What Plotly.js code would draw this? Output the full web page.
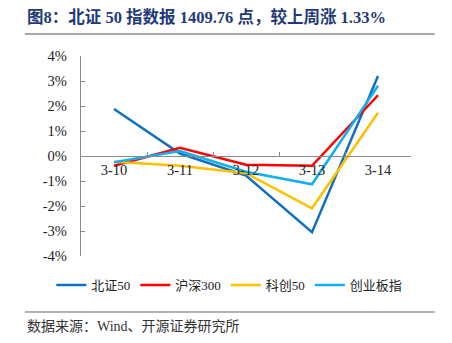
<!DOCTYPE html>
<html>
<head>
<meta charset="utf-8">
<script src="https://cdn.plot.ly/plotly-3.0.1.min.js"></script>
<style>
html,body{margin:0;padding:0;background:#fff;}
#chart{width:452px;height:343px;}
</style>
</head>
<body>
<div id="chart"></div>
<script>
const dates = ["3-10", "3-11", "3-12", "3-13", "3-14"];
const seriesNames = ["北证50", "沪深300", "科创50", "创业板指"];
const bz50 = [1.88, 0.10, -0.78, -3.05, 3.20];
const hs300 = [-0.39, 0.33, -0.35, -0.39, 2.43];
const kc50 = [-0.23, -0.39, -0.69, -2.09, 1.73];
const cybz = [-0.25, 0.20, -0.63, -1.13, 2.81];
const yTicks = [-4, -3, -2, -1, 0, 1, 2, 3, 4];
const yTickText = ["-4%", "-3%", "-2%", "-1%", "0%", "1%", "2%", "3%", "4%"];
const titleText = "图8：北证 50 指数报 1409.76 点，较上周涨 1.33%";
const sourceText = "数据来源：Wind、开源证券研究所";

const colors = ["#1070c0", "#ff0000", "#ffc000", "#10b0f0"];
const allSeries = [bz50, hs300, kc50, cybz];

const traces = allSeries.map((vals, i) => ({
  x: dates,
  y: vals,
  type: "scatter",
  mode: "lines",
  name: seriesNames[i],
  line: {color: colors[i], width: 2.5},
  hoverinfo: "skip"
}));

const serif = "'Liberation Serif', 'Noto Sans CJK SC', serif";

const layout = {
  width: 452,
  height: 343,
  margin: {l: 81, r: 41, t: 56, b: 87, autoexpand: false},
  paper_bgcolor: "#fff",
  plot_bgcolor: "#fff",
  showlegend: true,
  legend: {
    orientation: "h",
    x: -0.09, xref: "paper", xanchor: "left",
    y: -0.145, yanchor: "middle",
    font: {family: serif, size: 13, color: "#222"},
    itemwidth: 30,
    tracegroupgap: 0
  },
  xaxis: {
    type: "category",
    anchor: "free",
    position: 0.5,
    showline: true,
    linecolor: "#888",
    linewidth: 1.2,
    ticks: "inside",
    tickson: "boundaries",
    ticklen: 4,
    tickcolor: "#888",
    showgrid: false,
    zeroline: false,
    tickfont: {family: serif, size: 14.5, color: "#222"},
    range: [-0.5, 4.5],
    fixedrange: true
  },
  yaxis: {
    range: [-4, 4],
    tickvals: yTicks,
    ticktext: yTickText,
    showline: true,
    linecolor: "#888",
    linewidth: 1.2,
    ticks: "inside",
    ticklen: 4,
    tickcolor: "#888",
    showgrid: false,
    zeroline: false,
    ticklabelstandoff: 10,
    tickfont: {family: serif, size: 14.5, color: "#222"},
    fixedrange: true
  },
  shapes: [
    {type: "line", xref: "paper", yref: "paper", x0: -0.17, x1: 1.072, y0: 1.11, y1: 1.11,
     line: {color: "#888", width: 1.5}},
    {type: "line", xref: "paper", yref: "paper", x0: -0.17, x1: 1.072, y0: -0.28, y1: -0.28,
     line: {color: "#666", width: 1.2}}
  ],
  annotations: [
    {text: "<b>" + titleText + "</b>", xref: "paper", yref: "paper", x: -0.17, y: 1.195,
     xanchor: "left", yanchor: "middle", showarrow: false,
     font: {family: serif, size: 16.5, color: "#1f3a78"}},
    {text: sourceText, xref: "paper", yref: "paper", x: -0.17, y: -0.35,
     xanchor: "left", yanchor: "middle", showarrow: false,
     font: {family: serif, size: 14, color: "#333"}}
  ]
};

Plotly.newPlot("chart", traces, layout, {displayModeBar: false, staticPlot: true});
</script>
</body>
</html>
